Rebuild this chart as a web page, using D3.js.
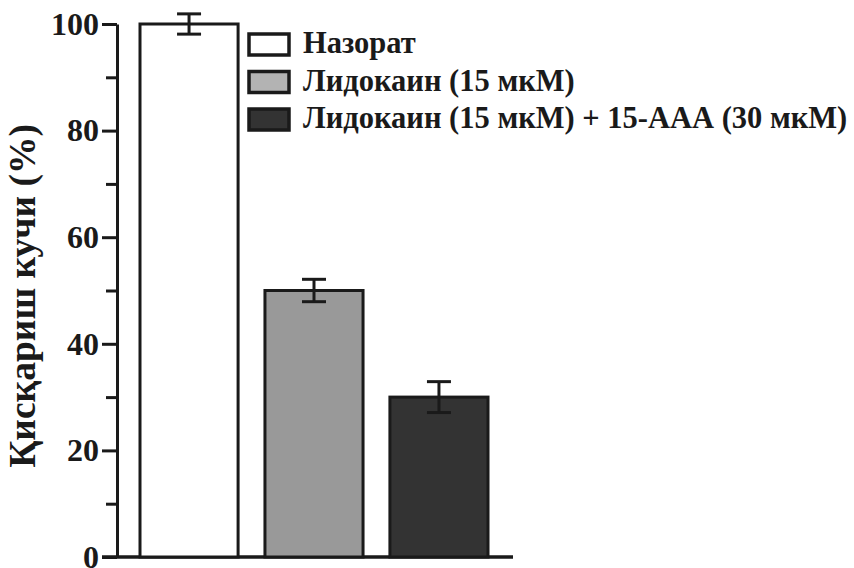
<!DOCTYPE html>
<html>
<head>
<meta charset="utf-8">
<script src="https://cdn.jsdelivr.net/npm/d3@7"></script>
<style>
  body { margin: 0; background: #fff; }
</style>
</head>
<body>
<div id="chart"></div>
<script>
// data
var groups = ["Назорат", "Лидокаин (15 мкМ)", "Лидокаин (15 мкМ) + 15-ААА (30 мкМ)"];
var means = [100, 50, 30];
var errors = [1.9, 2.1, 2.9];
var fills = ["#ffffff", "#999999", "#333333"];
var legendFills = ["#ffffff", "#b3b3b3", "#333333"];
var majorTicks = [0, 20, 40, 60, 80, 100];
var minorTicks = [10, 30, 50, 70, 90];
var yLabel = "Қисқариш кучи (%)";

var svgWidth = 854;
var svgHeight = 568;
var serif = "'Liberation Serif', 'Times New Roman', serif";
var ink = "#1a1a1a";

var svg = d3.select("#chart")
  .append("svg")
  .attr("width", svgWidth)
  .attr("height", svgHeight);

var yScale = d3.scaleLinear()
  .domain([0, 100])
  .range([557, 24]);

var xScale = d3.scaleBand()
  .domain(groups)
  .range([140, 488])
  .paddingInner(0.215)
  .paddingOuter(0);

var axisX = 117;

// y axis, major ticks with labels
var yAxis = d3.axisLeft(yScale)
  .tickValues(majorTicks)
  .tickSize(15)
  .tickSizeOuter(0)
  .tickPadding(3);

var yG = svg.append("g")
  .attr("transform", `translate(${axisX},0)`)
  .call(yAxis);

yG.select(".domain").attr("stroke", ink).attr("stroke-width", 3);
yG.selectAll(".tick line").attr("stroke", ink).attr("stroke-width", 3);
yG.selectAll(".tick text")
  .style("font-family", serif)
  .style("font-weight", "bold")
  .style("font-size", "32px")
  .attr("fill", ink);

// minor ticks
var yMinor = d3.axisLeft(yScale)
  .tickValues(minorTicks)
  .tickSize(11)
  .tickSizeOuter(0)
  .tickFormat("");

var yMinorG = svg.append("g")
  .attr("transform", `translate(${axisX},0)`)
  .call(yMinor);
yMinorG.select(".domain").remove();
yMinorG.selectAll(".tick line").attr("stroke", ink).attr("stroke-width", 3);

// baseline
svg.append("line")
  .attr("x1", axisX - 15)
  .attr("x2", 513)
  .attr("y1", yScale(0))
  .attr("y2", yScale(0))
  .attr("stroke", ink)
  .attr("stroke-width", 3.5);

// bars
svg.selectAll("rect.bar")
  .data(groups)
  .enter()
  .append("rect")
  .attr("class", "bar")
  .attr("x", d => xScale(d))
  .attr("y", (d, i) => yScale(means[i]))
  .attr("width", xScale.bandwidth())
  .attr("height", (d, i) => yScale(0) - yScale(means[i]))
  .attr("fill", (d, i) => fills[i])
  .attr("stroke", ink)
  .attr("stroke-width", 3);

// error bars
var capW = 12;
var errG = svg.selectAll("g.err")
  .data(groups)
  .enter()
  .append("g")
  .attr("class", "err")
  .attr("stroke", ink)
  .attr("stroke-width", 3);

errG.append("line")
  .attr("x1", d => xScale(d) + xScale.bandwidth() / 2)
  .attr("x2", d => xScale(d) + xScale.bandwidth() / 2)
  .attr("y1", (d, i) => yScale(means[i] + errors[i]))
  .attr("y2", (d, i) => yScale(means[i] - errors[i]));

[1, -1].forEach(function(s) {
  errG.append("line")
    .attr("x1", d => xScale(d) + xScale.bandwidth() / 2 - capW)
    .attr("x2", d => xScale(d) + xScale.bandwidth() / 2 + capW)
    .attr("y1", (d, i) => yScale(means[i] + s * errors[i]))
    .attr("y2", (d, i) => yScale(means[i] + s * errors[i]));
});

// legend
var legend = svg.selectAll("g.legend")
  .data(groups)
  .enter()
  .append("g")
  .attr("class", "legend")
  .attr("transform", (d, i) => `translate(249, ${34 + i * 37.5})`);

legend.append("rect")
  .attr("width", 40)
  .attr("height", 21)
  .attr("fill", (d, i) => legendFills[i])
  .attr("stroke", ink)
  .attr("stroke-width", 3.5);

legend.append("text")
  .attr("x", 54)
  .attr("y", 19)
  .attr("fill", ink)
  .style("font-family", serif)
  .style("font-weight", "bold")
  .style("font-size", "30.5px")
  .text(d => d);

// y label
svg.append("text")
  .attr("transform", `translate(35, 296) rotate(-90)`)
  .attr("text-anchor", "middle")
  .attr("fill", ink)
  .style("font-family", serif)
  .style("font-weight", "bold")
  .style("font-size", "37.5px")
  .text(yLabel);
</script>
</body>
</html>
